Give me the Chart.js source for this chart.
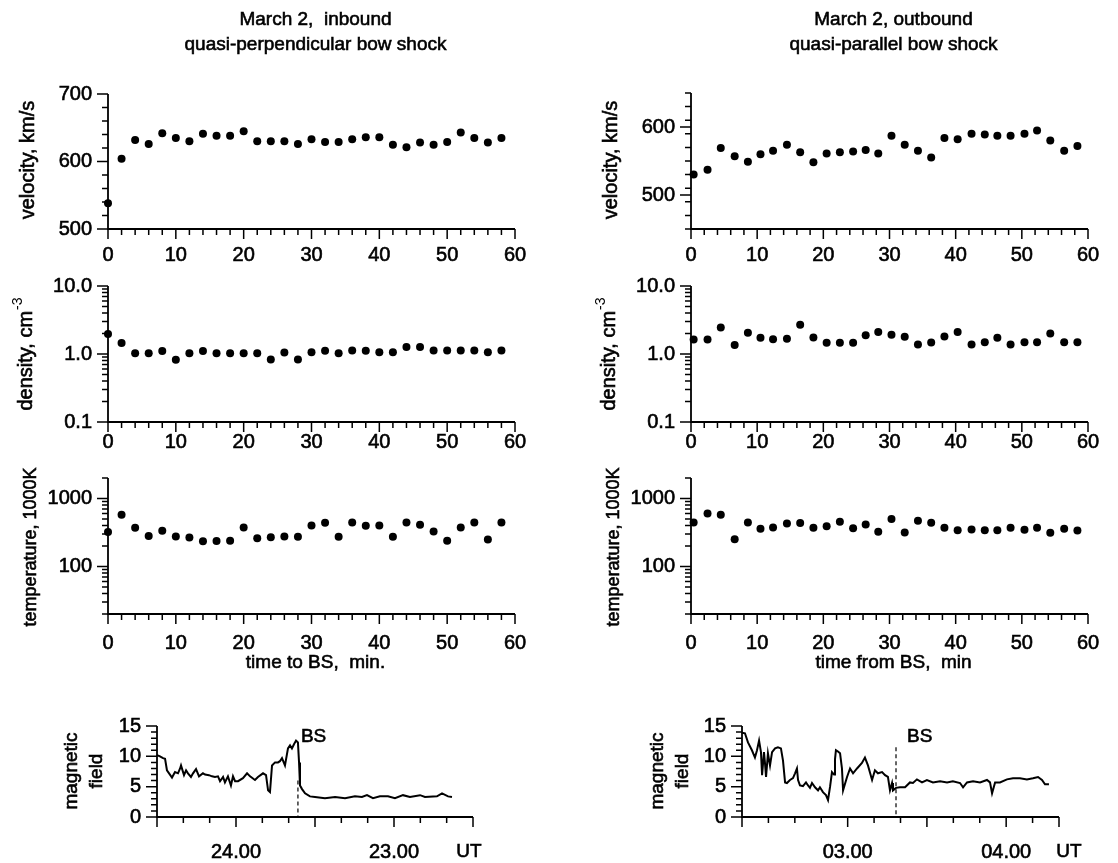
<!DOCTYPE html>
<html>
<head>
<meta charset="utf-8">
<script src="https://cdn.jsdelivr.net/npm/chart.js@4.4.1/dist/chart.umd.min.js"></script>
<style>
  html, body { margin: 0; padding: 0; background: #fff; }
  #fig { position: relative; width: 1118px; height: 863px; overflow: hidden; background: #fff; }
  #fig canvas { position: absolute; left: 0; top: 0; }
</style>
</head>
<body>
<div id="fig">
  <canvas id="velIn" width="1118" height="863"></canvas>
  <canvas id="densIn" width="1118" height="863"></canvas>
  <canvas id="tempIn" width="1118" height="863"></canvas>
  <canvas id="magIn" width="1118" height="863"></canvas>
  <canvas id="velOut" width="1118" height="863"></canvas>
  <canvas id="densOut" width="1118" height="863"></canvas>
  <canvas id="tempOut" width="1118" height="863"></canvas>
  <canvas id="magOut" width="1118" height="863"></canvas>
</div>
<script>
// ---- inbound (quasi-perpendicular) plasma data, minutes to BS
const inTime = [0, 2, 4, 6, 8, 10, 12, 14, 16, 18, 20, 22, 24, 26, 28, 30, 32, 34, 36, 38, 40, 42, 44, 46, 48, 50, 52, 54, 56, 58];
const inVelocity = [538, 604, 632, 626, 642, 635, 630, 641, 638, 638, 645, 630, 630, 630, 626, 633, 629, 629, 633, 636, 636, 625, 621, 628, 625, 629, 643, 635, 628, 635];
const inDensity = [1.97, 1.45, 1.03, 1.03, 1.11, 0.82, 1.03, 1.11, 1.03, 1.03, 1.03, 1.03, 0.83, 1.05, 0.83, 1.06, 1.12, 1.03, 1.13, 1.12, 1.06, 1.06, 1.27, 1.27, 1.13, 1.13, 1.13, 1.13, 1.06, 1.13];
const inTemperature = [320, 578, 370, 280, 334, 277, 267, 234, 237, 239, 374, 259, 270, 277, 274, 400, 438, 274, 442, 396, 400, 274, 442, 409, 327, 239, 374, 442, 250, 442];

// ---- outbound (quasi-parallel) plasma data, minutes from BS
const outTime = [0.4, 2.5, 4.5, 6.6, 8.6, 10.5, 12.4, 14.5, 16.5, 18.5, 20.5, 22.5, 24.5, 26.4, 28.3, 30.3, 32.3, 34.3, 36.3, 38.3, 40.3, 42.4, 44.4, 46.3, 48.3, 50.4, 52.3, 54.3, 56.4, 58.4];
const outVelocity = [530, 537, 569, 557, 549, 560, 565, 574, 563, 548, 561, 563, 564, 566, 561, 587, 574, 565, 555, 584, 582, 590, 589, 587, 587, 590, 595, 580, 565, 572];
const outDensity = [1.63, 1.63, 2.46, 1.36, 2.05, 1.73, 1.65, 1.67, 2.70, 1.75, 1.46, 1.46, 1.46, 1.89, 2.10, 1.92, 1.79, 1.38, 1.47, 1.81, 2.10, 1.38, 1.49, 1.73, 1.38, 1.49, 1.49, 2.00, 1.49, 1.49];
const outTemperature = [444, 601, 575, 252, 444, 358, 375, 429, 434, 371, 392, 454, 366, 415, 324, 497, 316, 470, 439, 371, 342, 350, 342, 342, 371, 346, 371, 313, 358, 338];

// ---- magnetic field traces (UT in hours, nT)
const inUT = [24.500, 24.481, 24.462, 24.449, 24.437, 24.405, 24.386, 24.367, 24.354, 24.348, 24.335, 24.329, 24.316, 24.304, 24.285, 24.272, 24.253, 24.234, 24.209, 24.196, 24.171, 24.152, 24.133, 24.114, 24.101, 24.082, 24.070, 24.051, 24.032, 24.019, 24.006, 23.987, 23.956, 23.930, 23.911, 23.880, 23.861, 23.829, 23.810, 23.797, 23.785, 23.772, 23.753, 23.734, 23.722, 23.709, 23.690, 23.671, 23.658, 23.646, 23.633, 23.620, 23.608, 23.601, 23.595, 23.582, 23.563, 23.532, 23.500, 23.437, 23.373, 23.310, 23.247, 23.203, 23.171, 23.133, 23.089, 23.038, 22.994, 22.943, 22.899, 22.835, 22.804, 22.728, 22.696, 22.658, 22.633];
const inField = [10.2, 10.0, 9.7, 9.6, 7.7, 6.5, 7.4, 7.2, 8.0, 8.5, 7.4, 6.9, 7.7, 7.2, 6.6, 7.2, 7.9, 6.7, 7.2, 7.0, 6.9, 6.7, 6.6, 6.7, 5.9, 6.6, 5.7, 6.7, 5.2, 6.7, 5.9, 5.9, 6.4, 7.2, 6.7, 6.1, 6.6, 7.2, 6.9, 4.4, 4.1, 8.5, 9.0, 9.0, 9.2, 9.7, 8.5, 11.3, 11.8, 11.3, 12.0, 12.6, 12.3, 9.0, 5.2, 4.6, 3.9, 3.4, 3.3, 3.1, 3.3, 3.1, 3.4, 3.3, 3.6, 3.1, 3.4, 3.4, 3.1, 3.6, 3.3, 3.6, 3.3, 3.4, 3.9, 3.4, 3.3];
const outUT = [2.333, 2.352, 2.371, 2.396, 2.415, 2.428, 2.441, 2.453, 2.460, 2.472, 2.478, 2.485, 2.497, 2.510, 2.523, 2.542, 2.560, 2.579, 2.592, 2.605, 2.617, 2.636, 2.655, 2.668, 2.680, 2.687, 2.699, 2.718, 2.737, 2.750, 2.762, 2.775, 2.794, 2.813, 2.825, 2.844, 2.863, 2.876, 2.889, 2.901, 2.914, 2.920, 2.926, 2.939, 2.952, 2.964, 2.971, 2.996, 3.015, 3.034, 3.059, 3.090, 3.109, 3.128, 3.154, 3.172, 3.191, 3.217, 3.236, 3.254, 3.267, 3.280, 3.286, 3.305, 3.330, 3.362, 3.393, 3.412, 3.437, 3.469, 3.500, 3.538, 3.583, 3.627, 3.664, 3.709, 3.728, 3.753, 3.791, 3.835, 3.879, 3.898, 3.911, 3.930, 3.961, 4.005, 4.043, 4.087, 4.131, 4.169, 4.201, 4.226, 4.245, 4.270];
const outField = [13.9, 13.8, 12.3, 11.0, 9.8, 11.0, 12.6, 10.7, 6.9, 10.7, 9.0, 6.6, 10.5, 8.5, 10.7, 11.3, 11.5, 11.3, 9.3, 5.7, 5.6, 6.1, 6.4, 7.2, 8.0, 6.1, 5.2, 5.1, 5.7, 5.2, 4.8, 5.6, 4.9, 4.4, 4.9, 4.1, 3.6, 2.8, 5.0, 7.4, 7.0, 9.5, 11.0, 10.8, 10.5, 8.0, 4.4, 6.6, 8.0, 7.2, 8.0, 8.9, 9.8, 8.5, 6.1, 7.7, 7.2, 7.4, 6.9, 6.6, 4.4, 5.6, 4.4, 4.8, 4.9, 4.9, 5.7, 5.6, 6.2, 5.7, 6.1, 5.7, 5.9, 5.7, 5.9, 5.6, 4.9, 5.7, 5.9, 5.7, 6.1, 5.7, 3.9, 5.7, 5.7, 6.2, 6.4, 6.4, 6.2, 6.4, 6.6, 6.1, 5.4, 5.4];

// bow shock crossing times (UT hours)
const bsInUT = 23.608;
const bsOutUT = 3.305;

// ---- tick labels
const minuteTicks = [0, 10, 20, 30, 40, 50, 60];
const velInTicks = [500, 600, 700];
const velOutTicks = [500, 600];
const densTicks = [0.1, 1, 10];
const densTickLabels = ['0.1', '1.0', '10.0'];
const tempTicks = [100, 1000];
const fieldTicks = [0, 5, 10, 15];
const utInTicks = [24, 23];
const utInLabels = ['24.00', '23.00'];
const utOutTicks = [3, 4];
const utOutLabels = ['03.00', '04.00'];

const W = 1118, H = 863;
const FONT = '"Liberation Sans", Arial, Helvetica, sans-serif';

function pts(xs, ys) {
  return xs.map((x, i) => ({ x: x, y: ys[i] }));
}

function steps(a, b, n) {
  const out = [];
  for (let i = 0; i <= n; i++) out.push(a + (b - a) * i / n);
  return out;
}

function logMinor(min, max) {
  const out = [];
  for (let e = Math.floor(Math.log10(min)); e <= Math.ceil(Math.log10(max)); e++) {
    for (let k = 2; k <= 9; k++) {
      const v = k * Math.pow(10, e);
      if (v >= min * 0.999 && v <= max * 1.001) out.push(v);
    }
  }
  return out;
}

// scanned figure has heavy strokes: fill plus a thin outline
function text(ctx, s, x, y, size, align, rot) {
  ctx.save();
  ctx.translate(x, y);
  if (rot) ctx.rotate(rot);
  ctx.font = size + 'px ' + FONT;
  ctx.fillStyle = '#000';
  ctx.strokeStyle = '#000';
  ctx.lineWidth = 0.6;
  ctx.textAlign = align || 'center';
  ctx.textBaseline = 'middle';
  ctx.fillText(s, 0, 0);
  ctx.strokeText(s, 0, 0);
  ctx.restore();
}

function axesPlugin(p) {
  return {
    id: 'axes_' + p.id,
    beforeDatasetsDraw(chart) {
      const ctx = chart.ctx, xs = chart.scales.x, ys = chart.scales.y, ca = chart.chartArea;
      ctx.save();
      ctx.strokeStyle = '#000';
      ctx.lineWidth = 1.8;
      ctx.beginPath();
      ctx.moveTo(ca.left, ca.top);
      ctx.lineTo(ca.left, ca.bottom);
      ctx.lineTo(ca.right, ca.bottom);
      ctx.stroke();
      ctx.lineWidth = 1.5;
      ctx.beginPath();
      p.x.major.forEach(v => { const px = xs.getPixelForValue(v); ctx.moveTo(px, ca.bottom); ctx.lineTo(px, ca.bottom + 10); });
      p.x.minor.forEach(v => { const px = xs.getPixelForValue(v); ctx.moveTo(px, ca.bottom); ctx.lineTo(px, ca.bottom + 6); });
      p.y.major.forEach(v => { const py = ys.getPixelForValue(v); ctx.moveTo(ca.left, py); ctx.lineTo(ca.left - 11, py); });
      p.y.minor.forEach(v => { const py = ys.getPixelForValue(v); ctx.moveTo(ca.left, py); ctx.lineTo(ca.left - 6, py); });
      ctx.stroke();
      if (p.bs) {
        const bx = xs.getPixelForValue(p.bs.t);
        ctx.setLineDash([4, 3]);
        ctx.lineWidth = 1.2;
        ctx.beginPath();
        ctx.moveTo(bx, ys.getPixelForValue(p.bs.from));
        ctx.lineTo(bx, ca.bottom);
        ctx.stroke();
        ctx.setLineDash([]);
      }
      ctx.restore();
    },
    afterDraw(chart) {
      const ctx = chart.ctx, xs = chart.scales.x, ys = chart.scales.y, ca = chart.chartArea;
      p.x.labels.forEach((s, i) => text(ctx, s, xs.getPixelForValue(p.x.ticks[i]), ca.bottom + p.x.labelOffset, 20, 'center'));
      p.y.labels.forEach((s, i) => text(ctx, s, ca.left - 16, ys.getPixelForValue(p.y.ticks[i]), 20, 'right'));
      if (p.bs) text(ctx, 'BS', xs.getPixelForValue(p.bs.t) + p.bs.dx, 737, 19, 'left');
      (p.texts || []).forEach(t => text(ctx, t.s, t.x, t.y, t.size || 19, 'center', t.rot ? -Math.PI / 2 : 0));
      if (p.draw) p.draw(ctx, chart);
    }
  };
}

function makePanel(p) {
  const datasets = p.series.map(s => ({
    data: pts(s.x, s.y),
    showLine: !!s.line,
    borderColor: '#000',
    backgroundColor: '#000',
    borderWidth: s.line ? 2 : 0,
    pointRadius: s.line ? 0 : 4,
    pointBackgroundColor: '#000',
    pointBorderWidth: 0,
    tension: 0,
    fill: false,
    clip: false
  }));
  const a = p.area;
  new Chart(document.getElementById(p.id), {
    type: 'scatter',
    data: { datasets: datasets },
    options: {
      responsive: false,
      animation: false,
      devicePixelRatio: 1,
      events: [],
      layout: { padding: { left: a.left, top: a.top, right: W - a.right, bottom: H - a.bottom } },
      plugins: { legend: { display: false }, tooltip: { enabled: false } },
      scales: {
        x: { type: 'linear', display: false, min: p.x.min, max: p.x.max, reverse: !!p.x.reverse },
        y: { type: p.y.log ? 'logarithmic' : 'linear', display: false, min: p.y.min, max: p.y.max }
      }
    },
    plugins: [axesPlugin(p)]
  });
}

// density title with superscript
function densityTitle(cx, cy) {
  return function (ctx) {
    ctx.save();
    ctx.translate(cx, cy);
    ctx.rotate(-Math.PI / 2);
    ctx.fillStyle = '#000';
    ctx.strokeStyle = '#000';
    ctx.lineWidth = 0.6;
    ctx.textBaseline = 'middle';
    ctx.font = '20px ' + FONT;
    const main = 'density, cm';
    const w1 = ctx.measureText(main).width;
    ctx.font = '14px ' + FONT;
    const w2 = ctx.measureText('-3').width;
    const x0 = -(w1 + w2 + 1) / 2;
    ctx.font = '20px ' + FONT;
    ctx.textAlign = 'left';
    ctx.fillText(main, x0, 0);
    ctx.strokeText(main, x0, 0);
    ctx.font = '14px ' + FONT;
    ctx.fillText('-3', x0 + w1 + 1, -8);
    ctx.restore();
  };
}

const minuteMinor = steps(0, 60, 30).filter(v => v % 10 !== 0);
const plasmaX = (labelOffset) => ({ min: 0, max: 60, major: minuteTicks, minor: minuteMinor, ticks: minuteTicks, labels: minuteTicks.map(String), labelOffset: labelOffset });

const columns = [
  { key: 'In', left: 108, right: 515, time: inTime, vel: inVelocity, dens: inDensity, temp: inTemperature,
    velMin: 500, velMax: 700, velTicks: velInTicks, velTop: 94,
    title1: 'March 2,  inbound', title2: 'quasi-perpendicular bow shock', xTitle: 'time to BS,  min.' },
  { key: 'Out', left: 691, right: 1088, time: outTime, vel: outVelocity, dens: outDensity, temp: outTemperature,
    velMin: 450, velMax: 650, velTicks: velOutTicks, velTop: 93,
    title1: 'March 2, outbound', title2: 'quasi-parallel bow shock', xTitle: 'time from BS,  min' }
];

columns.forEach(c => {
  const cx = (c.left + c.right) / 2 + 4;
  makePanel({
    id: 'vel' + c.key,
    area: { left: c.left, right: c.right, top: c.velTop, bottom: 229 },
    x: plasmaX(26),
    y: { min: c.velMin, max: c.velMax, major: c.velTicks, minor: steps(c.velMin, c.velMax, 10).filter(v => v % 100 !== 0),
         ticks: c.velTicks, labels: c.velTicks.map(String) },
    series: [{ x: c.time, y: c.vel }],
    texts: [
      { s: c.title1, x: cx, y: 20 },
      { s: c.title2, x: cx, y: 45 },
      { s: 'velocity, km/s', x: c.left - 80, y: 160, size: 20, rot: true }
    ]
  });
  makePanel({
    id: 'dens' + c.key,
    area: { left: c.left, right: c.right, top: 286, bottom: 422 },
    x: plasmaX(20),
    y: { log: true, min: 0.1, max: 10, major: densTicks, minor: logMinor(0.1, 10), ticks: densTicks, labels: densTickLabels },
    series: [{ x: c.time, y: c.dens }],
    draw: densityTitle(c.left - 82, 354)
  });
  makePanel({
    id: 'temp' + c.key,
    area: { left: c.left, right: c.right, top: 478, bottom: 614 },
    x: plasmaX(29),
    y: { log: true, min: 20, max: 2000, major: tempTicks, minor: logMinor(20, 2000), ticks: tempTicks, labels: tempTicks.map(String) },
    series: [{ x: c.time, y: c.temp }],
    texts: [
      { s: 'temperature, 1000K', x: c.left - 77, y: 547, size: 18, rot: true },
      { s: c.xTitle, x: cx, y: 663 }
    ]
  });
});

const fieldMinor = steps(0, 15, 15).filter(v => v % 5 !== 0);

makePanel({
  id: 'magIn',
  area: { left: 157, right: 473, top: 726, bottom: 817 },
  x: { min: 22.5, max: 24.5, reverse: true, major: [24.5, 24, 23.5, 23, 22.5], minor: steps(22.5, 24.5, 12),
       ticks: utInTicks, labels: utInLabels, labelOffset: 35 },
  y: { min: 0, max: 15, major: fieldTicks, minor: fieldMinor, ticks: fieldTicks, labels: fieldTicks.map(String) },
  series: [{ x: inUT, y: inField, line: true }],
  bs: { t: bsInUT, from: 6, dx: 3 },
  texts: [
    { s: 'magnetic', x: 72, y: 771, rot: true },
    { s: 'field', x: 97, y: 771, rot: true },
    { s: 'UT', x: 469, y: 852 }
  ]
});

makePanel({
  id: 'magOut',
  area: { left: 742, right: 1059, top: 726, bottom: 817 },
  x: { min: 2 + 1 / 3, max: 4 + 1 / 3, major: [2 + 1 / 3, 3, 3.5, 4, 4 + 1 / 3], minor: steps(2 + 1 / 3, 4 + 1 / 3, 12),
       ticks: utOutTicks, labels: utOutLabels, labelOffset: 35 },
  y: { min: 0, max: 15, major: fieldTicks, minor: fieldMinor, ticks: fieldTicks, labels: fieldTicks.map(String) },
  series: [{ x: outUT, y: outField, line: true }],
  bs: { t: bsOutUT, from: 11.5, dx: 11 },
  texts: [
    { s: 'magnetic', x: 658, y: 771, rot: true },
    { s: 'field', x: 683, y: 771, rot: true },
    { s: 'UT', x: 1069, y: 852 }
  ]
});
</script>
</body>
</html>
